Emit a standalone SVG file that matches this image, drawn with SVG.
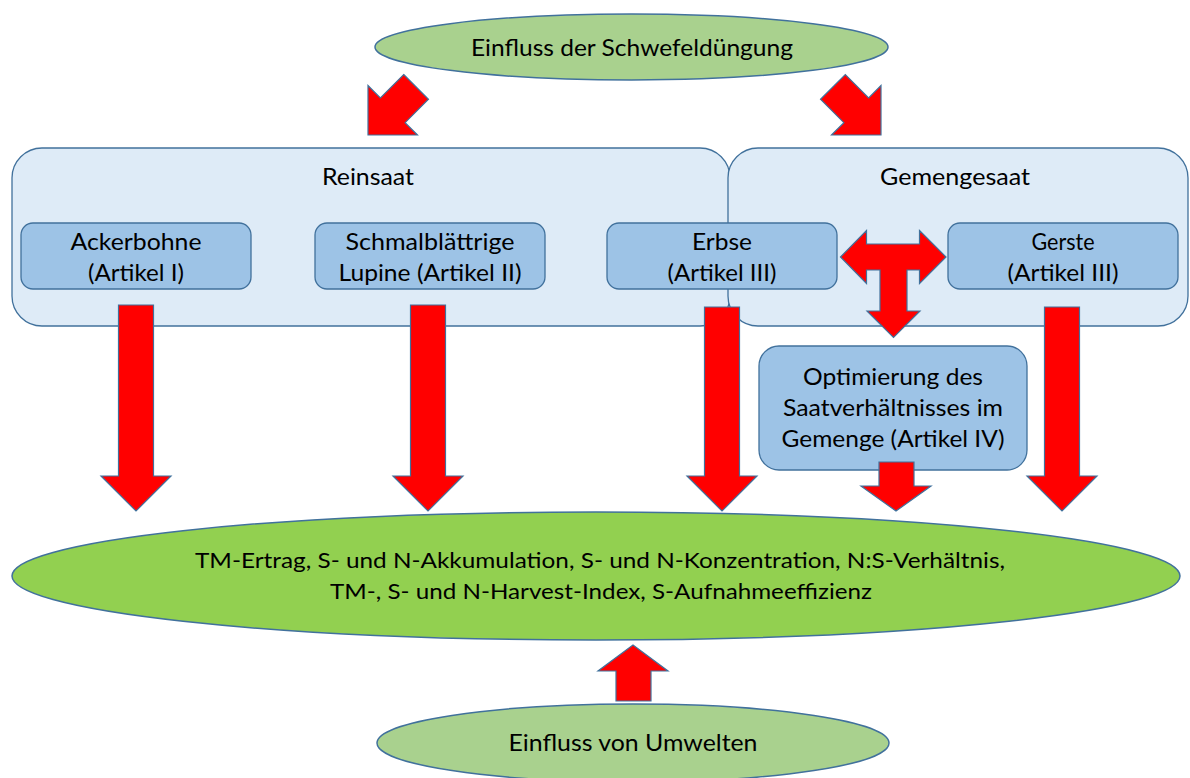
<svg xmlns="http://www.w3.org/2000/svg" width="1190" height="778" viewBox="0 0 1190 778">
<defs>
<style>
.t{font-family:Lato,"Liberation Sans",Arial,sans-serif;font-size:23.5px;fill:#000;text-anchor:middle}
.tb{font-family:Lato,"Liberation Sans",Arial,sans-serif;font-size:22px;fill:#000;text-anchor:middle}
.cont{fill:#deebf7;stroke:#41719c;stroke-width:1.3}
.box{fill:#9dc3e6;stroke:#41719c;stroke-width:1.3}
.ell{fill:#a9d18e;stroke:#41719c;stroke-width:1.5}
.big{fill:#92d050;stroke:#41719c;stroke-width:1.5}
.arr{fill:#ff0000;stroke:#41719c;stroke-width:1.2;stroke-linejoin:miter}
</style>
<polygon id="dArrow" points="-17.5,-68 17.5,-68 17.5,-35 35,-35 0,0 -35,-35 -17.5,-35"/>
</defs>

<g id="node-schwefel">
<ellipse class="ell" cx="631.5" cy="47" rx="256.5" ry="33"/>
<text class="t" x="632" y="56" textLength="322" lengthAdjust="spacingAndGlyphs">Einfluss der Schwefeldüngung</text>
</g>

<g id="node-reinsaat">
<rect class="cont" x="12" y="148" width="718" height="178" rx="30"/>
<text class="t" x="368" y="185" textLength="92" lengthAdjust="spacingAndGlyphs">Reinsaat</text>
</g>

<g id="node-gemengesaat">
<rect class="cont" x="728" y="148" width="460" height="178" rx="30"/>
<text class="t" x="955" y="185" textLength="150" lengthAdjust="spacingAndGlyphs">Gemengesaat</text>
</g>

<g id="node-ackerbohne">
<rect class="box" x="21" y="223" width="230" height="66" rx="12"/>
<text class="t" x="136" y="250" textLength="131" lengthAdjust="spacingAndGlyphs">Ackerbohne</text>
<text class="t" x="136" y="281" textLength="96" lengthAdjust="spacingAndGlyphs">(Artikel I)</text>
</g>

<g id="node-lupine">
<rect class="box" x="315" y="223" width="230" height="66" rx="12"/>
<text class="t" x="430" y="250" textLength="169" lengthAdjust="spacingAndGlyphs">Schmalblättrige</text>
<text class="t" x="430" y="281" textLength="183" lengthAdjust="spacingAndGlyphs">Lupine (Artikel II)</text>
</g>

<g id="node-erbse">
<rect class="box" x="607" y="223" width="230" height="66" rx="12"/>
<text class="t" x="722" y="250" textLength="60" lengthAdjust="spacingAndGlyphs">Erbse</text>
<text class="t" x="722" y="281" textLength="109" lengthAdjust="spacingAndGlyphs">(Artikel III)</text>
</g>

<g id="node-gerste">
<rect class="box" x="948" y="223" width="230" height="66" rx="12"/>
<text class="t" x="1063" y="250" textLength="63" lengthAdjust="spacingAndGlyphs">Gerste</text>
<text class="t" x="1063" y="281" textLength="111" lengthAdjust="spacingAndGlyphs">(Artikel III)</text>
</g>

<g id="node-optimierung">
<rect class="box" x="759" y="346" width="268" height="124" rx="20"/>
<text class="t" x="893" y="385" textLength="180" lengthAdjust="spacingAndGlyphs">Optimierung des</text>
<text class="t" x="893" y="416" textLength="220" lengthAdjust="spacingAndGlyphs">Saatverhältnisses im</text>
<text class="t" x="893" y="447" textLength="223" lengthAdjust="spacingAndGlyphs">Gemenge (Artikel IV)</text>
</g>

<g id="node-ergebnis">
<ellipse class="big" cx="596" cy="576" rx="584" ry="64"/>
<text class="tb" x="600" y="568" textLength="810" lengthAdjust="spacingAndGlyphs">TM-Ertrag, S- und N-Akkumulation, S- und N-Konzentration, N:S-Verhältnis,</text>
<text class="tb" x="601" y="599" textLength="542" lengthAdjust="spacingAndGlyphs">TM-, S- und N-Harvest-Index, S-Aufnahmeeffizienz</text>
</g>

<g id="node-umwelten">
<ellipse class="ell" cx="633" cy="743" rx="256" ry="39"/>
<text class="t" x="633" y="751" textLength="249" lengthAdjust="spacingAndGlyphs">Einfluss von Umwelten</text>
</g>

<g id="connectors">
<use href="#dArrow" class="arr" transform="translate(368,135) rotate(45)"/>
<use href="#dArrow" class="arr" transform="translate(881,135) rotate(-45)"/>
<polygon class="arr" points="118.5,305 153.5,305 153.5,476 171,476 136,511 101,476 118.5,476"/>
<polygon class="arr" points="410.5,305 445.5,305 445.5,476 463,476 428,511 393,476 410.5,476"/>
<polygon class="arr" points="704.5,307 739.5,307 739.5,476 757,476 722,511 687,476 704.5,476"/>
<polygon class="arr" points="1044.5,307 1079.5,307 1079.5,476 1097,476 1062,511 1027,476 1044.5,476"/>
<polygon class="arr" points="879,462 914,462 914,486 931,486 896,511 861,486 879,486"/>
<polygon class="arr" points="840.5,257 866.5,230.5 866.5,244 919.5,244 919.5,230.5 946,257 919.5,283.5 919.5,270 907,270 907,311 920,311 893.5,337.5 867,311 880,311 880,270 866.5,270 866.5,283.5"/>
<polygon class="arr" points="616,701 651,701 651,671 668,671 633,645 598,671 616,671"/>
</g>
</svg>
